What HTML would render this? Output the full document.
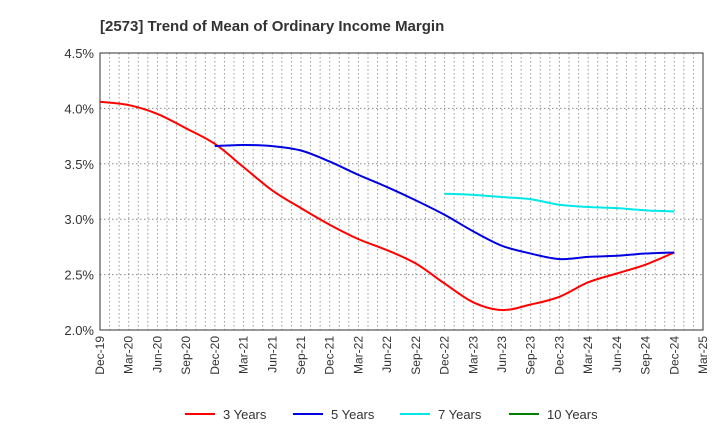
<!DOCTYPE html>
<html><head><meta charset="utf-8"><style>
body{margin:0;background:#fff;font-family:"Liberation Sans",sans-serif}
</style></head><body>
<svg id="chart" width="720" height="440" xmlns="http://www.w3.org/2000/svg" font-family="Liberation Sans, sans-serif">
<text x="100" y="31" font-size="15" font-weight="bold" fill="#333">[2573]  Trend of Mean of Ordinary Income Margin</text>
<g id="grid"></g><g id="axes"></g><g id="series"></g><g id="legend"></g>
</svg>
<script>
const xLabels=["Dec-19","Mar-20","Jun-20","Sep-20","Dec-20","Mar-21","Jun-21","Sep-21","Dec-21","Mar-22","Jun-22","Sep-22","Dec-22","Mar-23","Jun-23","Sep-23","Dec-23","Mar-24","Jun-24","Sep-24","Dec-24","Mar-25"];
const yTicks=[2.0,2.5,3.0,3.5,4.0,4.5];
const y3=[4.06,4.03,3.95,3.82,3.68,3.47,3.26,3.10,2.95,2.82,2.72,2.60,2.42,2.25,2.18,2.23,2.30,2.43,2.51,2.59,2.70];
const y5=[3.66,3.67,3.66,3.62,3.52,3.40,3.29,3.17,3.04,2.89,2.76,2.69,2.64,2.66,2.67,2.69,2.70];
const y7=[3.23,3.22,3.20,3.18,3.13,3.11,3.10,3.08,3.07];
const y10=[];
const ns="http://www.w3.org/2000/svg";
const L=100,R=703,T=53,B=330;
const xs=i=>L+i*(R-L)/(xLabels.length-1);
const ys=v=>B-(v-2.0)/(2.5)*(B-T);
function mk(tag,attrs,parent){const e=document.createElementNS(ns,tag);for(const k in attrs)e.setAttribute(k,attrs[k]);document.getElementById(parent).appendChild(e);return e;}
for(let m=1;m<(xLabels.length-1)*3;m++){const x=L+m*(R-L)/((xLabels.length-1)*3);
const g=mk('line',{x1:x,x2:x,y1:T,y2:B,stroke:'#999','stroke-dasharray':'1.5,2.5','stroke-width':1},'grid');

}
yTicks.forEach(v=>{const y=ys(v);
const g=mk('line',{x1:L,x2:R,y1:y,y2:y,stroke:'#888','stroke-dasharray':'1.5,2.5'},'grid');


const t=mk('text',{x:L-6,y:y+5,'text-anchor':'end','font-size':13,fill:'#333'},'axes');t.textContent=v.toFixed(1)+'%';

});
const fr=mk('rect',{x:L,y:T,width:R-L,height:B-T,fill:'none',stroke:'#333','stroke-width':1},'axes');


xLabels.forEach((s,i)=>{const x=xs(i);
const t=mk('text',{transform:`translate(${x+4},${B+6}) rotate(-90)`,'text-anchor':'end','font-size':12,fill:'#333'},'axes');t.textContent=s;

});
function path(vals,start){const p=vals.map((v,i)=>[xs(start+i),ys(v)]);if(p.length<2)return '';
let d=`M${p[0][0]},${p[0][1]}`;
for(let i=0;i<p.length-1;i++){const p0=p[Math.max(i-1,0)],p1=p[i],p2=p[i+1],p3=p[Math.min(i+2,p.length-1)];
d+=` C${p1[0]+(p2[0]-p0[0])/6},${p1[1]+(p2[1]-p0[1])/6} ${p2[0]-(p3[0]-p1[0])/6},${p2[1]-(p3[1]-p1[1])/6} ${p2[0]},${p2[1]}`;}return d;}
const series=[[y3,0,'#ff0000','3 Years','series-3-years'],[y5,4,'#0000e0','5 Years','series-5-years'],[y7,12,'#00e8e8','7 Years','series-7-years'],[y10,20,'#008000','10 Years','series-10-years']];
series.forEach(s=>{if(s[0].length<2)return;const e=mk('path',{d:path(s[0],s[1]),fill:'none',stroke:s[2],'stroke-width':2},'series');

});
const lx=[185,293,400,509];
series.forEach((s,i)=>{const l=mk('line',{x1:lx[i],x2:lx[i]+30,y1:414,y2:414,stroke:s[2],'stroke-width':2},'legend');


const t=mk('text',{x:lx[i]+38,y:419,'font-size':13,fill:'#333'},'legend');t.textContent=s[3];

});
</script>
</body></html>
